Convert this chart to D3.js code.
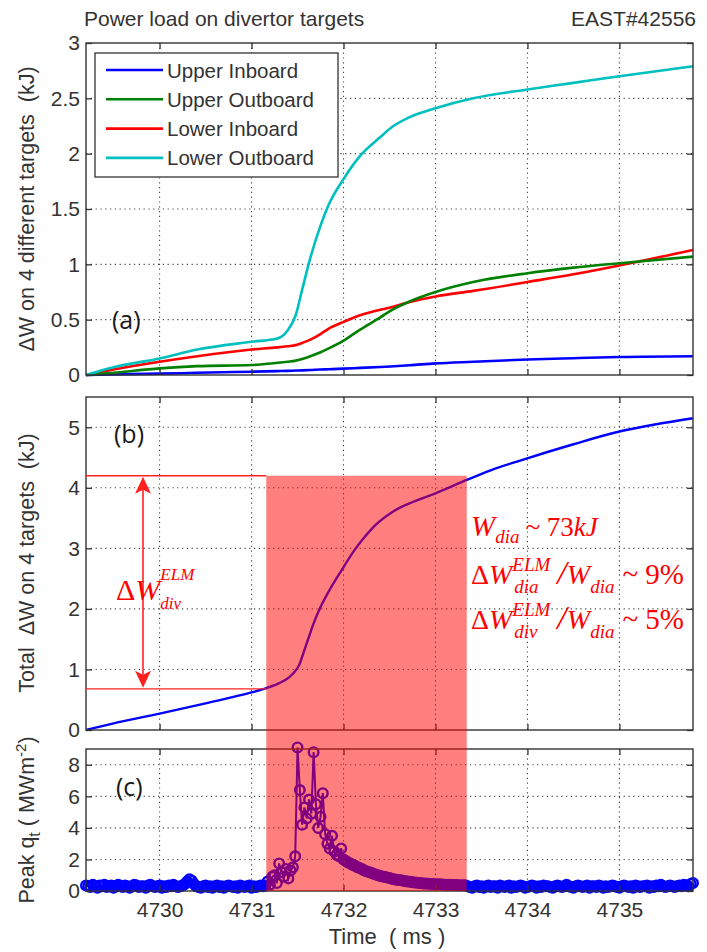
<!DOCTYPE html>
<html><head><meta charset="utf-8">
<script src="https://cdn.jsdelivr.net/npm/d3@7"></script>
<style>
html,body{margin:0;padding:0;background:#fff;}
svg{display:block;}
text{white-space:pre;}
</style></head>
<body><svg id="chart" width="707" height="952"></svg>
<script>
// ---------------- DATA ----------------
const xDomain = [4729.2, 4735.8];
const xTicks = [4730, 4731, 4732, 4733, 4734, 4735];

// Panel (a): energy on 4 divertor targets (kJ)
const timeA = [4729.2, 4729.5, 4730.0, 4730.41, 4731.0, 4731.28, 4731.39, 4731.48, 4731.55, 4731.64, 4731.75, 4731.84, 4732.0, 4732.18, 4732.4, 4732.51, 4732.72, 4733.0, 4733.41, 4734.0, 4734.5, 4735.0, 4735.8];
const upperInboard  = [0, 0.005, 0.012, 0.02, 0.03, 0.035, 0.037, 0.04, 0.042, 0.045, 0.05, 0.052, 0.058, 0.064, 0.072, 0.077, 0.088, 0.105, 0.12, 0.14, 0.152, 0.163, 0.17];
const upperOutboard = [0, 0.02, 0.06, 0.08, 0.09, 0.11, 0.12, 0.13, 0.145, 0.17, 0.205, 0.24, 0.31, 0.41, 0.52, 0.58, 0.665, 0.75, 0.84, 0.92, 0.97, 1.01, 1.07];
const lowerInboard  = [0, 0.05, 0.12, 0.17, 0.23, 0.25, 0.26, 0.27, 0.29, 0.32, 0.37, 0.42, 0.48, 0.54, 0.59, 0.61, 0.66, 0.71, 0.76, 0.84, 0.91, 0.99, 1.13];
const lowerOutboard = [0, 0.07, 0.15, 0.23, 0.30, 0.33, 0.40, 0.54, 0.77, 1.06, 1.35, 1.54, 1.77, 1.98, 2.15, 2.23, 2.33, 2.41, 2.50, 2.58, 2.64, 2.70, 2.79];
const seriesNames = ["Upper Inboard", "Upper Outboard", "Lower Inboard", "Lower Outboard"];
const seriesColors = ["#0000ff", "#008000", "#ff0000", "#00bfbf"];
const yTicksA = [0, 0.5, 1, 1.5, 2, 2.5, 3];
const yTickLabelsA = ["0", "0.5", "1", "1.5", "2", "2.5", "3"];

// Panel (b): total energy on 4 targets (kJ)
const timeB = [4729.2, 4729.5, 4730.0, 4730.5, 4731.0, 4731.16, 4731.25, 4731.36, 4731.45, 4731.52, 4731.57, 4731.62, 4731.66, 4731.75, 4731.84, 4731.98, 4732.11, 4732.22, 4732.33, 4732.54, 4732.76, 4733.0, 4733.34, 4733.6, 4733.92, 4734.5, 4735.0, 4735.4, 4735.8];
const totalW = [0.0, 0.11, 0.27, 0.44, 0.62, 0.69, 0.74, 0.82, 0.93, 1.08, 1.30, 1.52, 1.70, 2.03, 2.29, 2.64, 2.95, 3.17, 3.36, 3.61, 3.77, 3.91, 4.13, 4.29, 4.45, 4.72, 4.93, 5.05, 5.15];
const yTicksB = [0, 1, 2, 3, 4, 5];
const elmWindow = [4731.16, 4733.34];
const divLevels = [0.68, 4.2];

// Panel (c): peak heat flux (MW m^-2), sampled every 0.025 ms from 4729.2 ms
const qtStart = 4729.2, qtStep = 0.025;
const peakQt = [
 0.35,0.3,0.25,0.4,0.3,0.2,0.35,0.3,0.4,0.25,
 0.3,0.35,0.2,0.3,0.4,0.3,0.25,0.35,0.3,0.2,
 0.3,0.4,0.35,0.25,0.3,0.3,0.2,0.35,0.4,0.3,
 0.25,0.3,0.35,0.2,0.3,0.25,0.35,0.3,0.4,0.3,
 0.25,0.3,0.35,0.45,0.6,0.75,0.65,0.45,0.3,0.25,
 0.2,0.3,0.35,0.25,0.3,0.2,0.3,0.35,0.25,0.3,
 0.2,0.3,0.35,0.3,0.25,0.3,0.2,0.35,0.3,0.25,
 0.3,0.35,0.2,0.3,0.25,0.3,0.35,0.3,0.35,
 0.6,0.4,0.9,1.0,0.5,1.75,1.2,0.9,1.4,0.8,1.3,1.5,2.2,
 9.1,6.4,4.2,5.3,4.6,5.8,4.9,8.8,5.5,4.0,4.7,6.2,3.6,3.0,2.7,3.5,2.5,2.3,2.2,2.7,
 2.0,
 1.9,1.8,1.75,1.65,1.6,1.5,1.45,1.4,1.3,1.25,
 1.2,1.15,1.1,1.05,1.0,0.95,0.92,0.88,0.85,0.82,
 0.78,0.75,0.72,0.7,0.68,0.65,0.62,0.6,0.58,0.56,
 0.54,0.52,0.5,0.49,0.48,0.47,0.46,0.45,0.44,0.43,
 0.42,0.42,0.41,0.4,0.4,0.39,0.39,0.38,0.38,0.37,
 0.37,0.36,0.36,
 0.3,0.25,0.2,0.3,0.35,0.25,0.3,0.2,0.3,0.35,
 0.25,0.3,0.3,0.2,0.35,0.3,0.25,0.3,0.35,0.2,
 0.3,0.25,0.3,0.35,0.3,0.2,0.25,0.3,0.35,0.3,
 0.2,0.3,0.25,0.35,0.3,0.3,0.25,0.2,0.3,0.35,
 0.3,0.25,0.3,0.4,0.3,0.25,0.2,0.3,0.35,0.3,
 0.25,0.3,0.35,0.2,0.3,0.3,0.25,0.35,0.3,0.2,
 0.3,0.25,0.3,0.35,0.3,0.25,0.2,0.3,0.35,0.3,
 0.25,0.3,0.2,0.35,0.3,0.25,0.3,0.3,0.35,0.2,
 0.3,0.25,0.35,0.3,0.4,0.3,0.25,0.3,0.35,0.3,
 0.25,0.3,0.35,0.3,0.4,0.35,0.3,0.45,0.5
];
const yTicksC = [0, 2, 4, 6, 8];

// ---------------- LAYOUT ----------------
const svg = d3.select("#chart");
const xL = 86, xR = 693;
const P = {
  a: {top: 43, bot: 375, dom: [0, 3]},
  b: {top: 397, bot: 730, dom: [0, 5.5]},
  c: {top: 749, bot: 891, dom: [0, 9]}
};
const x = d3.scaleLinear().domain(xDomain).range([xL, xR]);
const ya = d3.scaleLinear().domain(P.a.dom).range([P.a.bot, P.a.top]);
const yb = d3.scaleLinear().domain(P.b.dom).range([P.b.bot, P.b.top]);
const yc = d3.scaleLinear().domain(P.c.dom).range([P.c.bot, P.c.top]);

const AX = "#333";
const FONT = "'Liberation Sans', Arial, sans-serif";

function grid(y, yt) {
  const g = svg.append("g").attr("stroke", "#444").attr("stroke-width", 1.1).attr("stroke-dasharray", "1.2,3.6");
  xTicks.forEach(t => g.append("line").attr("x1", x(t)).attr("x2", x(t)).attr("y1", y.range()[1]).attr("y2", y.range()[0]));
  yt.filter(v => v > y.domain()[0] && v < y.domain()[1]).forEach(v =>
    g.append("line").attr("x1", xL).attr("x2", xR).attr("y1", y(v)).attr("y2", y(v)));
}

function frame(y, yt, ylabels, showX) {
  const top = y.range()[1], bot = y.range()[0];
  const gb = svg.append("g").attr("transform", `translate(0,${bot})`)
    .call(d3.axisBottom(x).tickValues(xTicks).tickSize(-6).tickPadding(11).tickFormat(showX ? d3.format("d") : ""));
  const gt = svg.append("g").attr("transform", `translate(0,${top})`)
    .call(d3.axisTop(x).tickValues(xTicks).tickSize(-6).tickFormat(""));
  const gl = svg.append("g").attr("transform", `translate(${xL},0)`)
    .call(d3.axisLeft(y).tickValues(yt).tickSize(-6).tickPadding(6).tickFormat((d, i) => ylabels ? ylabels[i] : d));
  const gr = svg.append("g").attr("transform", `translate(${xR},0)`)
    .call(d3.axisRight(y).tickValues(yt).tickSize(-6).tickFormat(""));
  [gb, gt, gl, gr].forEach(g => {
    g.select(".domain").remove();
    g.selectAll(".tick line").attr("stroke", AX).attr("stroke-width", 1.3);
    g.selectAll(".tick text").attr("fill", "#333").attr("font-family", FONT).attr("font-size", 21);
  });
  svg.append("rect").attr("x", xL).attr("y", top).attr("width", xR - xL).attr("height", bot - top)
    .attr("fill", "none").attr("stroke", AX).attr("stroke-width", 1.4);
}

// ---------- Panel a ----------
grid(ya, yTicksA);
const seriesA = [upperInboard, upperOutboard, lowerInboard, lowerOutboard];
const lineA = d3.line().x((d, i) => x(timeA[i])).y(d => ya(d)).curve(d3.curveMonotoneX);
[0, 2, 1, 3].forEach(k => {
  svg.append("path").datum(seriesA[k]).attr("d", lineA).attr("fill", "none")
    .attr("stroke", seriesColors[k]).attr("stroke-width", 2.6);
});
// legend
const lg = svg.append("g");
lg.append("rect").attr("x", 95).attr("y", 53).attr("width", 243).attr("height", 124)
  .attr("fill", "#fff").attr("stroke", AX).attr("stroke-width", 1.3);
seriesNames.forEach((n, i) => {
  const cy = 70 + i * 29.3;
  lg.append("line").attr("x1", 106).attr("x2", 163).attr("y1", cy).attr("y2", cy)
    .attr("stroke", seriesColors[i]).attr("stroke-width", 2.6);
  lg.append("text").attr("x", 167).attr("y", cy + 7.5).text(n)
    .attr("font-family", FONT).attr("font-size", 20.5).attr("fill", "#333");
});
frame(ya, yTicksA, yTickLabelsA, false);

// ---------- Panel b ----------
grid(yb, yTicksB);
const lineB = d3.line().x((d, i) => x(timeB[i])).y(d => yb(d)).curve(d3.curveMonotoneX);
svg.append("path").datum(totalW).attr("d", lineB).attr("fill", "none")
  .attr("stroke", "#0000ff").attr("stroke-width", 2.4);
frame(yb, yTicksB, null, false);

// ---------- Panel c ----------
grid(yc, yTicksC);
const qtPts = peakQt.map((v, i) => [qtStart + i * qtStep, v]);
svg.append("path").datum(qtPts)
  .attr("d", d3.line().x(d => x(d[0])).y(d => yc(d[1])))
  .attr("fill", "none").attr("stroke", "#0000ff").attr("stroke-width", 2);
svg.append("g").selectAll("circle").data(qtPts).join("circle")
  .attr("cx", d => x(d[0])).attr("cy", d => yc(d[1])).attr("r", 4.8)
  .attr("fill", "none").attr("stroke", "#0000ff").attr("stroke-width", 2.4);
frame(yc, yTicksC, null, true);

// ---------- ELM window shading ----------
svg.append("rect").attr("x", x(elmWindow[0])).attr("y", yb(divLevels[1]))
  .attr("width", x(elmWindow[1]) - x(elmWindow[0])).attr("height", yc(0) - yb(divLevels[1]))
  .attr("fill", "#ff0000").attr("fill-opacity", 0.5);

// red reference lines and double arrow
const RED = "#ff2020";
divLevels.forEach(v => svg.append("line").attr("x1", xL).attr("x2", x(elmWindow[0]))
  .attr("y1", yb(v)).attr("y2", yb(v)).attr("stroke", RED).attr("stroke-width", 1.4));
const ax = 143, aTop = yb(divLevels[1]) + 1, aBot = yb(divLevels[0]) - 1;
svg.append("line").attr("x1", ax).attr("x2", ax).attr("y1", aTop + 8).attr("y2", aBot - 8)
  .attr("stroke", RED).attr("stroke-width", 1.6);
svg.append("path").attr("d", `M${ax},${aTop} L${ax - 8},${aTop + 17} L${ax},${aTop + 13} L${ax + 8},${aTop + 17} Z`).attr("fill", RED);
svg.append("path").attr("d", `M${ax},${aBot} L${ax - 8},${aBot - 17} L${ax},${aBot - 13} L${ax + 8},${aBot - 17} Z`).attr("fill", RED);

// ---------- Rich text helper ----------
const SERIF = "'Liberation Serif', 'Times New Roman', serif";
function rich(x0, y0, pieces) {
  let cx = x0;
  pieces.forEach(p => {
    if (p.gap) { cx += p.gap; return; }
    if (p.stack) {
      const s = p.stack;
      const t1 = svg.append("text").attr("x", cx).attr("y", y0 + s.supDy).text(s.sup)
        .attr("font-family", SERIF).attr("font-style", "italic").attr("font-size", s.size).attr("fill", "#ff0000");
      const t2 = svg.append("text").attr("x", cx + (s.subDx || 0)).attr("y", y0 + s.subDy).text(s.sub)
        .attr("font-family", SERIF).attr("font-style", "italic").attr("font-size", s.size).attr("fill", "#ff0000");
      cx += Math.max(t1.node().getComputedTextLength(), t2.node().getComputedTextLength() + (s.subDx || 0));
      return;
    }
    const t = svg.append("text").attr("x", cx).attr("y", y0 + (p.dy || 0)).text(p.t)
      .attr("font-family", SERIF).attr("font-style", p.italic === false ? "normal" : "italic")
      .attr("font-size", p.size).attr("fill", "#ff0000");
    cx += t.node().getComputedTextLength();
  });
}

// ΔW_div^ELM label on the left
rich(116, 600, [
  {t: "Δ", size: 30, italic: false}, {t: "W", size: 30},
  {stack: {sup: "ELM", sub: "div", size: 17, supDy: -20, subDy: 9, subDx: 0}}
]);
// right annotations
rich(471, 536, [
  {t: "W", size: 29}, {t: "dia", size: 19, dy: 7}, {gap: 6},
  {t: "~ 73", size: 27, italic: false}, {t: "kJ", size: 27}
]);
const ratioLine = (y0, sub, pct) => rich(471, y0, [
  {t: "Δ", size: 28, italic: false}, {t: "W", size: 28},
  {stack: {sup: "ELM", sub: sub, size: 19, supDy: -13, subDy: 9, subDx: 2}}, {gap: 7},
  {t: "/", size: 34}, {t: "W", size: 28}, {t: "dia", size: 19, dy: 9}, {gap: 8},
  {t: "~ " + pct, size: 29, italic: false}
]);
ratioLine(584, "dia", "9%");
ratioLine(629, "div", "5%");

// ---------- Panel labels ----------
const LBL = "'Open Sans', 'Noto Sans', sans-serif";
[["(a)", 112, 329], ["(b)", 114, 443], ["(c)", 116, 796]].forEach(([t, lx, ly]) =>
  svg.append("text").attr("x", lx).attr("y", ly).text(t)
    .attr("font-family", LBL).attr("font-size", 25).attr("fill", "#1a1a1a"));

// ---------- Titles and axis labels ----------
svg.append("text").attr("x", 84).attr("y", 26).text("Power load on divertor targets")
  .attr("font-family", FONT).attr("font-size", 21).attr("fill", "#333");
svg.append("text").attr("x", 696).attr("y", 26).attr("text-anchor", "end").text("EAST#42556")
  .attr("font-family", FONT).attr("font-size", 21).attr("fill", "#333");

function yLabel(cx, cy, build) {
  const t = svg.append("text").attr("transform", `translate(${cx},${cy}) rotate(-90)`)
    .attr("text-anchor", "middle").attr("font-family", FONT).attr("font-size", 21.5).attr("fill", "#333");
  build(t);
}
yLabel(34, 209, t => t.text("ΔW on 4 different targets  (kJ)"));
yLabel(34, 563, t => t.text("Total  ΔW on 4 targets  (kJ)"));
yLabel(34, 820, t => {
  t.append("tspan").text("Peak q");
  t.append("tspan").attr("dy", 6).attr("font-size", 16).text("t");
  t.append("tspan").attr("dy", -6).text(" ( MWm");
  t.append("tspan").attr("dy", -8).attr("font-size", 15).text("-2");
  t.append("tspan").attr("dy", 8).text(")");
});
svg.append("text").attr("x", 387).attr("y", 944).attr("text-anchor", "middle").text("Time  ( ms )")
  .attr("font-family", FONT).attr("font-size", 22).attr("fill", "#333");
</script>
</body></html>
